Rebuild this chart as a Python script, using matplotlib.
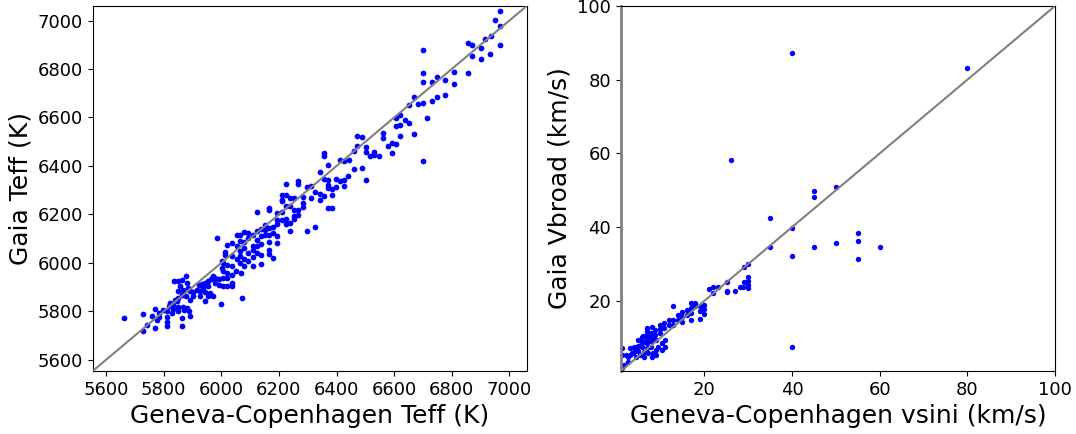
import matplotlib
matplotlib.use('Agg')
import matplotlib.pyplot as plt

# ---------------- data: left panel (Teff) ----------------
gc_teff = [
    6967, 6950, 6967, 6967, 6932, 6917, 6935, 6903, 6903, 6871, 6871, 6855, 6855, 6809, 6809,
    6776, 6776, 6747, 6747, 6730, 6730, 6699, 6699, 6699, 6699, 6684, 6715, 6669, 6652, 6699,
    6622, 6606, 6606, 6622, 6637, 6652, 6669, 6622, 6606, 6591, 6591, 6577, 6562, 6562, 6546,
    6531, 6531, 6516, 6502, 6502, 6502, 6487, 6487,
    # middle region
    6472, 6470, 6459, 6445, 6459, 6426, 6412, 6441, 6426, 6412, 6426, 6397, 6384, 6369, 6355,
    6355, 6369, 6341, 6369, 6384, 6355, 6341, 6326, 6311, 6297, 6311, 6283, 6268, 6268, 6225,
    6210, 6225, 6210, 6210, 6239, 6253, 6253, 6268, 6283, 6283, 6239, 6225, 6195, 6210, 6225,
    6253, 6268, 6239, 6225, 6195, 6181, 6167, 6167, 6123, 6152, 6167, 6152, 6181, 6195, 6167,
    6137, 6123, 6137, 6123, 6109, 6094, 6079, 6065, 6054, 6094, 6079, 6065, 6109, 6123, 6137,
    6167, 6195, 6239, 6297, 6326, 6152, 6167, 6167, 6181, 6137, 6123, 6109, 6094, 6079, 6065,
    6054, 6036, 6021, 6013, 6013, 6036, 6054, 6065, 6079, 6094, 6109, 6137, 6109, 6079, 6065,
    6036, 6021, 6007, 6001, 6001, 6007, 6021, 6036, 6051, 6069, 6021, 6007, 5993, 5978, 5973,
    5963, 5955, 5944, 5932, 5921, 5938, 5955, 5978, 5993, 6007, 6021, 6036, 6036, 5984, 6210,
    6195, 6253, 6355, 6397, 6369, 6384, 6369, 6341,
    # lower-left region
    5664, 5730, 5730, 5743, 5758, 5770, 5770, 5776, 5784, 5784, 5797, 5811, 5811, 5811, 5811,
    5820, 5828, 5834, 5839, 5849, 5836, 5851, 5863, 5877, 5851, 5849, 5863, 5863, 5851, 5868,
    5871, 5834, 5880, 5892, 5889, 5892, 5877, 5863, 5892, 5845, 5822, 5886, 5880, 5868, 5857,
    5903, 5915, 5903, 5926, 5926, 5944, 5944, 5961, 5972, 5955, 5999, 6071,
]
gaia_teff = [
    7040, 7003, 6978, 6899, 6862, 6923, 6936, 6888, 6842, 6855, 6899, 6906, 6785, 6789, 6739,
    6755, 6693, 6765, 6686, 6745, 6666, 6879, 6785, 6745, 6659, 6657, 6597, 6686, 6652, 6422,
    6611, 6597, 6565, 6569, 6590, 6579, 6531, 6525, 6490, 6494, 6453, 6484, 6538, 6517, 6439,
    6459, 6446, 6439, 6480, 6459, 6342, 6521, 6393,
    # middle region
    6524, 6483, 6460, 6425, 6387, 6419, 6423, 6357, 6343, 6336, 6318, 6315, 6306, 6309, 6453,
    6443, 6402, 6375, 6343, 6281, 6274, 6285, 6291, 6267, 6315, 6318, 6271, 6339, 6326, 6326,
    6281, 6281, 6254, 6260, 6267, 6267, 6217, 6217, 6230, 6247, 6233, 6233, 6206, 6212, 6181,
    6181, 6199, 6164, 6162, 6162, 6150, 6226, 6217, 6212, 6157, 6144, 6137, 6123, 6109, 6116,
    6140, 6130, 6109, 6096, 6116, 6123, 6126, 6116, 6116, 6102, 6085, 6089, 6068, 6071, 6079,
    6085, 6082, 6130, 6130, 6150, 6116, 6054, 6038, 6020, 6034, 6041, 6054, 6041, 6061, 6047,
    6068, 6082, 6075, 6043, 6034, 6027, 6016, 6027, 6016, 6006, 6024, 5997, 5986, 5986, 6000,
    5986, 5992, 6000, 6006, 5979, 5965, 5958, 5951, 5965, 5958, 5937, 5937, 5933, 5937, 5944,
    5933, 5924, 5917, 5914, 5910, 5896, 5903, 5917, 5910, 5903, 5906, 5917, 5903, 6102, 6178,
    6178, 6192, 6346, 6346, 6322, 6226, 6226, 6260,
    # lower-left region
    5772, 5790, 5717, 5742, 5782, 5809, 5731, 5766, 5777, 5793, 5807, 5800, 5777, 5755, 5738,
    5821, 5793, 5827, 5848, 5855, 5924, 5924, 5931, 5947, 5882, 5803, 5772, 5738, 5820, 5820,
    5807, 5809, 5814, 5848, 5803, 5782, 5862, 5869, 5882, 5841, 5834, 5896, 5917, 5889, 5903,
    5864, 5889, 5878, 5864, 5882, 5878, 5841, 5875, 5862, 5862, 5831, 5855,
]
teff_ticks = [5600, 5800, 6000, 6200, 6400, 6600, 6800, 7000]
teff_lims = [5554, 7060]

# ---------------- data: right panel (rotation) ----------------
gc_vsini = [
    40, 80, 26, 45, 45, 50, 35, 40, 35, 40, 45, 50, 55, 55, 55, 60, 40,
    29.9, 29.1, 30, 30, 30, 30, 29.1, 28.9, 28.1, 27, 25.1, 25.1, 25.1, 23.2, 22.1, 21.1, 22.1,
    20, 20, 20, 19, 19, 19, 17.9, 17.9, 17, 17, 17, 17, 16, 16, 15, 15, 15, 13.9, 13.9,
    12.9, 12.9, 12.9, 12, 12, 10.9, 10.9, 9.9, 9.9, 9.9, 8.8, 8.8, 7.9, 7.9, 7.9,
    6.9, 6.9, 6.9, 6.9, 5.9, 5.9, 5.9, 5, 5, 5, 4, 4, 3, 3, 2.1, 1.2,
    9.1, 9.5, 10.3, 11, 11, 8.4, 7.2, 6.3, 5.3, 4.4, 2.7, 1.8, 1.3, 9.1, 10.3, 7.9, 6.9, 9.1,
    6.3, 8, 3.5, 4.5, 5.5, 6.5, 7.5, 8.5, 2.5, 3.8, 6, 7, 8, 1.2,
]
gaia_vbroad = [
    87.2, 83.3, 58.3, 49.7, 48.2, 51.0, 42.4, 39.9, 34.7, 32.3, 34.6, 35.8, 38.3, 36.2, 31.5,
    34.5, 7.4,
    30.0, 29.1, 26.4, 25.5, 24.3, 23.4, 25.0, 23.9, 23.7, 22.8, 25.0, 22.8, 22.3, 23.9, 23.9,
    23.2, 22.1,
    18.9, 17.8, 16.5, 18.6, 17.4, 15.0, 19.4, 18.5, 19.4, 18.0, 16.7, 14.8, 17.6, 16.2, 17.1,
    15.7, 14.4, 16.2, 14.8,
    18.5, 14.8, 13.5, 14.7, 13.5, 13.9, 12.6, 13.5, 12.3, 11.2, 12.1, 10.8, 11.2, 9.9, 9.0,
    12.6, 11.0, 9.9, 8.5, 10.3, 9.0, 7.6, 9.4, 7.8, 6.5, 7.6, 6.2, 7.2, 5.3, 5.3, 7.2,
    9.4, 7.6, 8.5, 7.6, 9.4, 5.8, 5.8, 6.2, 5.3, 4.9, 3.5, 2.6, 1.7, 6.7, 6.7, 7.6, 7.2, 5.3,
    4.9, 4.9, 6.0, 6.8, 8.0, 8.8, 10.0, 9.8, 4.8, 5.8, 10.6, 11.8, 12.8, 5.2,
]
rot_ticks = [20, 40, 60, 80, 100]
rot_lims = [1, 100]

# ---------------- plot ----------------
fig = plt.figure(figsize=(10.76, 4.34), dpi=100)
ax1 = fig.add_axes([0.0862, 0.1452, 0.4033, 0.8410])
ax2 = fig.add_axes([0.5771, 0.1452, 0.4034, 0.8410])

ax1.scatter(gc_teff, gaia_teff, s=17, c='blue', linewidths=0, zorder=2)
ax1.plot(teff_lims, teff_lims, color='gray', lw=1.5, zorder=3)
ax1.set_xlim(teff_lims)
ax1.set_ylim(teff_lims)
ax1.set_xticks(teff_ticks)
ax1.set_yticks(teff_ticks)
ax1.set_xlabel('Geneva-Copenhagen Teff (K)', fontsize=18)
ax1.set_ylabel('Gaia Teff (K)', fontsize=18)
ax1.tick_params(labelsize=13)

ax2.scatter(gc_vsini, gaia_vbroad, s=15, c='blue', linewidths=0, zorder=2)
ax2.plot(rot_lims, rot_lims, color='gray', lw=1.5, zorder=3)
ax2.set_xlim(rot_lims)
ax2.set_ylim(rot_lims)
ax2.set_xticks(rot_ticks)
ax2.set_yticks(rot_ticks)
ax2.set_xlabel('Geneva-Copenhagen vsini (km/s)', fontsize=18)
ax2.set_ylabel('Gaia Vbroad (km/s)', fontsize=18)
ax2.tick_params(labelsize=13)
ax2.spines['left'].set_color('gray')
ax2.spines['left'].set_linewidth(2)

fig.savefig('out.png', dpi=100)
